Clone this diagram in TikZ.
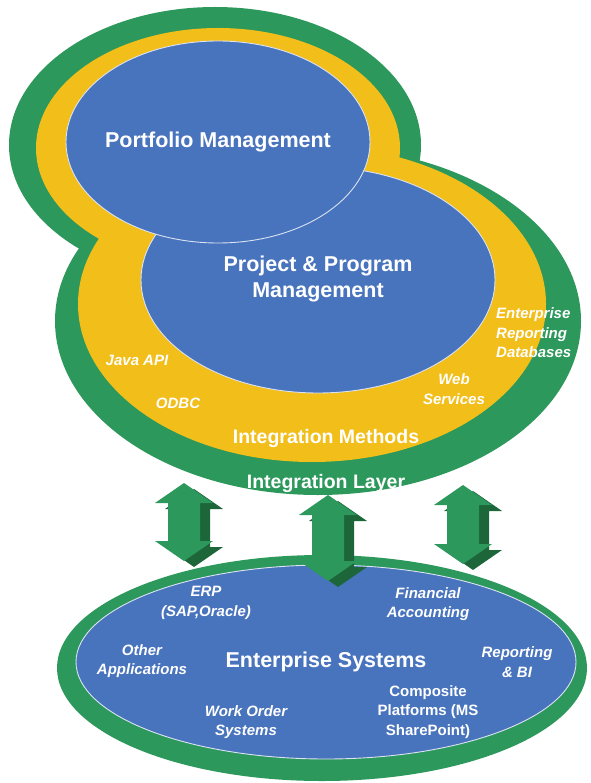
\documentclass[tikz,border=0pt]{standalone}
\usepackage{fontspec}
\setmainfont{Liberation Sans}
\usepackage{tikz}
\definecolor{layergreen}{RGB}{44,152,92}
\definecolor{layeryellow}{RGB}{242,190,26}
\definecolor{appblue}{RGB}{72,115,189}
\definecolor{arrowdark}{RGB}{28,102,58}
% double block arrow: x centre, top tip, bottom tip
\newcommand*{\arrowshape}[3]{(#1,#2) -- ++(29,20) -- ++(-13,0) -- (#1+16,#3-20) -- ++(13,0)
  -- (#1,#3) -- ++(-29,-20) -- ++(13,0) -- (#1-16,#2+20) -- ++(-13,0) -- cycle}
\newcommand*{\dblarrow}[3]{%
  \fill[arrow_side, shift={(10,6)}] \arrowshape{#1}{#2}{#3};
  \fill[arrow_front] \arrowshape{#1}{#2}{#3};}

\begin{document}
\begin{tikzpicture}[x=1pt, y=-1pt,
    green_layer/.style ={fill=layergreen},
    yellow_layer/.style ={fill=layeryellow},
    blue_oval/.style ={fill=appblue, draw=white!80!appblue, line width=0.9pt},
    arrow_front/.style ={fill=layergreen},
    arrow_side/.style ={fill=arrowdark},
    title_text/.style ={text=white, align=center, inner sep=0pt,
      font=\fontsize{21.5}{26}\selectfont\bfseries},
    layer_text/.style ={text=white, inner sep=0pt,
      font=\fontsize{19.5}{24}\selectfont\bfseries},
    item_text/.style ={text=white, align=center, inner sep=0pt,
      font=\fontsize{15}{19.5}\selectfont\bfseries\itshape},
    plain_item/.style ={item_text, font=\fontsize{15}{19.5}\selectfont\bfseries}]
    \useasboundingbox (0,0) rectangle (590,783);
    % integration layer and integration methods
    \fill[green_layer] (215,145) ellipse [x radius=206pt, y radius=138pt];
    \fill[green_layer] (318,321) ellipse [x radius=263pt, y radius=174pt];
    \fill[yellow_layer] (218,148) ellipse [x radius=182pt, y radius=120pt];
    \fill[yellow_layer] (312,304) ellipse [x radius=234pt, y radius=158pt];
    % applications
    \filldraw[blue_oval] (318,280) ellipse [x radius=177pt, y radius=113pt];
    \filldraw[blue_oval] (218,142) ellipse [x radius=152pt, y radius=101pt];
    % enterprise systems
    \fill[green_layer] (322,668) ellipse [x radius=265pt, y radius=113pt];
    \filldraw[blue_oval] (326,662) ellipse [x radius=250pt, y radius=97pt];
    % links between the layers
    \dblarrow{184}{483}{561}
    \dblarrow{328}{495}{581}
    \dblarrow{463}{485}{564}
    % labels
    \node[title_text] (portfolio) at (218,142) {Portfolio Management};
    \node[title_text] (project) at (318,279) {Project \& Program\\Management};
    \node[item_text] (java_api) at (137,360) {Java API};
    \node[item_text] (odbc) at (178,403) {ODBC};
    \node[item_text] (web_services) at (454,389) {Web\\Services};
    \node[item_text, align=left, anchor=west] (reporting_db) at (496,333)
      {Enterprise\\Reporting\\Databases};
    \node[layer_text] (methods) at (326,438) {Integration Methods};
    \node[layer_text] (layer) at (326,483) {Integration Layer};
    \node[title_text] (systems) at (326,662) {Enterprise Systems};
    \node[item_text] (erp) at (206,603) {ERP\\(SAP,Oracle)};
    \node[item_text] (financial) at (428,604) {Financial\\Accounting};
    \node[item_text] (other_apps) at (142,661) {Other\\Applications};
    \node[item_text] (reporting_bi) at (517,662) {Reporting\\\&~BI};
    \node[item_text] (work_order) at (246,722) {Work Order\\Systems};
    \node[plain_item] (composite) at (428,712) {Composite\\Platforms (MS\\SharePoint)};
\end{tikzpicture}
\end{document}
